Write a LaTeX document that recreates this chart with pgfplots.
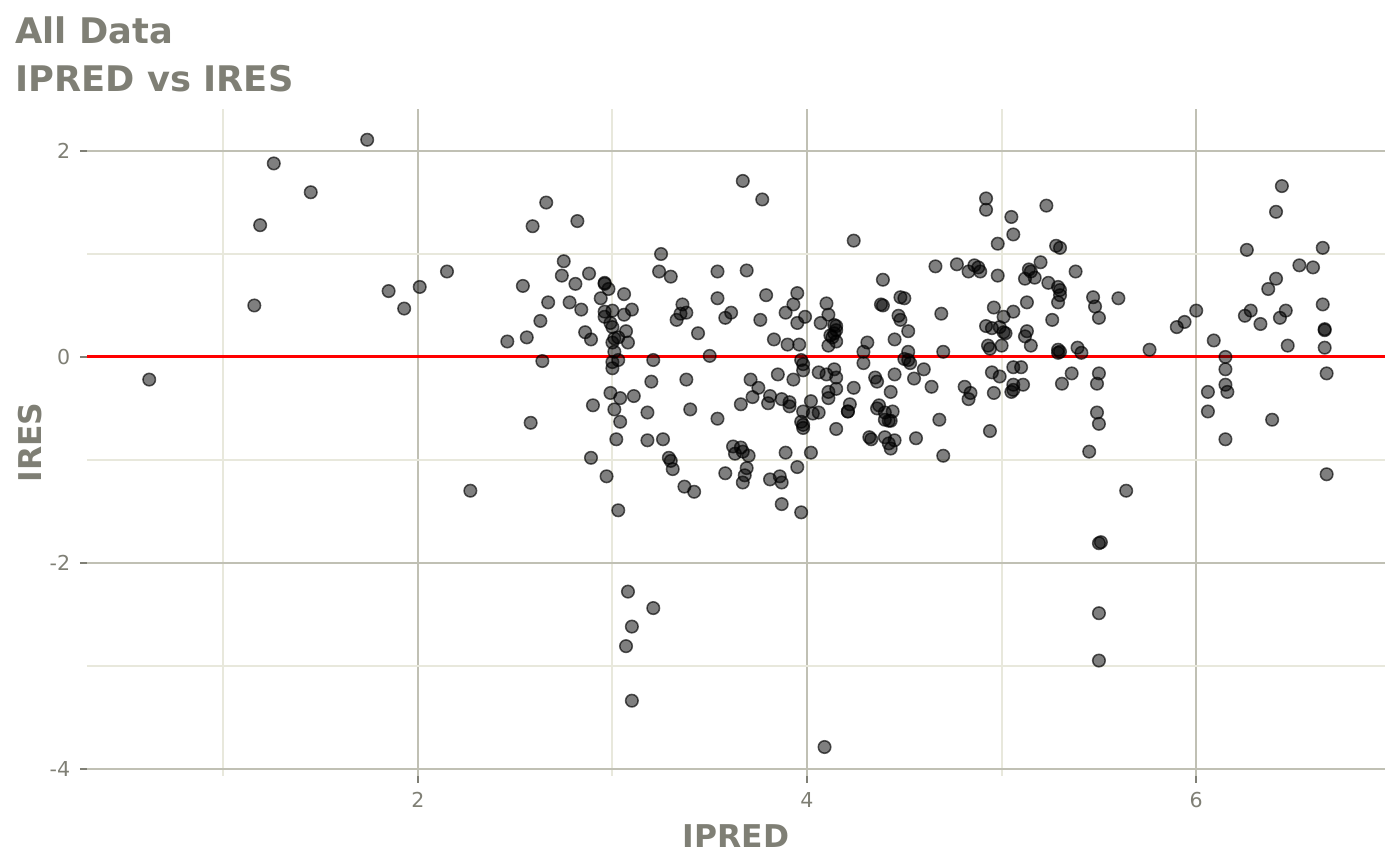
\documentclass[border=0pt]{standalone}
\usepackage{pgfplots}
\pgfplotsset{compat=1.18}
\usepackage{fontspec}
\setmainfont{DejaVu Sans}
\definecolor{txtgray}{RGB}{127,127,117}
\definecolor{gridmaj}{RGB}{192,192,180}
\definecolor{gridmin}{RGB}{232,232,220}
\pgfplotstableread{
x y
0.62 -0.22
1.16 0.50
1.19 1.28
1.26 1.88
1.45 1.60
1.74 2.11
1.85 0.64
1.93 0.47
2.01 0.68
2.15 0.83
2.27 -1.30
2.46 0.15
2.66 1.50
2.59 1.27
2.82 1.32
2.75 0.93
2.54 0.69
2.74 0.79
2.88 0.81
2.81 0.71
2.96 0.71
2.96 0.72
2.98 0.66
3.06 0.61
2.67 0.53
2.78 0.53
2.84 0.46
2.94 0.57
3.10 0.46
2.96 0.44
3.00 0.45
3.06 0.41
2.96 0.39
2.99 0.33
3.00 0.29
2.63 0.35
2.86 0.24
2.89 0.17
3.07 0.25
3.03 0.19
3.01 0.18
3.00 0.14
3.08 0.14
3.01 0.05
2.56 0.19
2.64 -0.04
3.03 -0.03
3.00 -0.05
3.00 -0.11
2.99 -0.35
3.04 -0.40
3.11 -0.38
2.90 -0.47
3.01 -0.51
3.04 -0.63
2.58 -0.64
3.02 -0.80
2.89 -0.98
2.97 -1.16
3.03 -1.49
3.08 -2.28
3.21 -2.44
3.10 -2.62
3.07 -2.81
3.10 -3.34
4.09 -3.79
5.50 -2.49
5.50 -2.95
3.67 1.71
3.77 1.53
3.25 1.00
3.24 0.83
3.30 0.78
3.54 0.83
3.69 0.84
3.36 0.51
3.54 0.57
3.35 0.42
3.38 0.43
3.33 0.36
3.58 0.38
3.61 0.43
3.79 0.60
3.76 0.36
3.95 0.62
3.93 0.51
3.89 0.43
3.99 0.39
3.95 0.33
3.44 0.23
3.83 0.17
3.90 0.12
3.96 0.12
3.21 -0.03
3.50 0.01
3.97 -0.03
3.98 -0.07
4.10 0.52
4.11 0.41
4.07 0.33
4.12 0.21
4.11 0.11
3.98 -0.13
3.20 -0.24
3.38 -0.22
3.71 -0.22
3.85 -0.17
3.93 -0.22
4.06 -0.15
4.10 -0.17
3.75 -0.30
3.72 -0.39
3.66 -0.46
3.81 -0.38
3.80 -0.45
3.87 -0.41
3.91 -0.44
3.91 -0.48
4.02 -0.43
4.11 -0.34
4.11 -0.40
3.18 -0.54
3.40 -0.51
3.54 -0.60
3.98 -0.53
4.03 -0.55
4.06 -0.54
3.97 -0.63
3.98 -0.66
3.98 -0.69
3.18 -0.81
3.26 -0.80
3.29 -0.98
3.30 -1.01
3.31 -1.09
3.62 -0.87
3.63 -0.94
3.66 -0.88
3.67 -0.92
3.70 -0.96
3.58 -1.13
3.69 -1.08
3.68 -1.15
3.67 -1.22
3.37 -1.26
3.42 -1.31
3.81 -1.19
3.86 -1.16
3.87 -1.22
3.89 -0.93
4.02 -0.93
3.95 -1.07
3.87 -1.43
3.97 -1.51
4.92 1.54
4.92 1.43
5.05 1.36
5.06 1.19
4.98 1.10
4.24 1.13
4.66 0.88
4.77 0.90
4.83 0.83
4.86 0.89
4.88 0.87
4.89 0.83
4.98 0.79
4.39 0.75
4.14 0.31
4.15 0.30
4.15 0.26
4.14 0.23
4.13 0.19
4.15 0.15
4.38 0.51
4.39 0.50
4.48 0.58
4.50 0.57
4.47 0.40
4.48 0.36
4.52 0.25
4.45 0.17
4.31 0.14
4.29 0.05
4.29 -0.06
4.52 0.05
4.50 -0.02
4.52 -0.03
4.53 -0.06
4.69 0.42
4.70 0.05
4.96 0.48
5.01 0.39
5.06 0.44
4.92 0.30
4.95 0.28
4.99 0.29
5.01 0.24
5.02 0.23
4.93 0.11
4.94 0.08
5.00 0.11
4.15 -0.20
4.14 -0.12
4.15 -0.31
4.24 -0.30
4.22 -0.46
4.21 -0.53
4.21 -0.53
4.35 -0.20
4.36 -0.24
4.45 -0.17
4.60 -0.12
4.55 -0.21
4.64 -0.29
4.43 -0.34
4.37 -0.47
4.36 -0.50
4.40 -0.54
4.44 -0.53
4.40 -0.61
4.42 -0.62
4.43 -0.62
4.15 -0.70
4.32 -0.78
4.33 -0.80
4.40 -0.78
4.42 -0.84
4.45 -0.81
4.43 -0.89
4.56 -0.79
4.68 -0.61
4.70 -0.96
4.81 -0.29
4.84 -0.35
4.83 -0.41
4.95 -0.15
4.99 -0.19
4.96 -0.35
4.94 -0.72
5.06 -0.10
5.06 -0.27
5.05 -0.34
5.23 1.47
5.28 1.08
5.30 1.06
5.20 0.92
5.14 0.85
5.15 0.83
5.12 0.76
5.17 0.77
5.38 0.83
5.24 0.72
5.29 0.68
5.30 0.65
5.30 0.60
5.29 0.53
5.47 0.58
5.48 0.49
5.60 0.57
5.50 0.38
5.26 0.36
5.13 0.53
5.13 0.25
5.12 0.20
5.15 0.11
5.29 0.07
5.30 0.05
5.29 0.04
5.39 0.09
5.41 0.04
5.76 0.07
5.90 0.29
5.94 0.34
6.00 0.45
5.10 -0.10
5.06 -0.32
5.11 -0.27
5.36 -0.16
5.31 -0.26
5.50 -0.16
5.49 -0.26
5.49 -0.54
5.50 -0.65
5.45 -0.92
5.64 -1.30
5.50 -1.81
5.51 -1.80
6.06 -0.34
6.06 -0.53
6.44 1.66
6.41 1.41
6.26 1.04
6.65 1.06
6.53 0.89
6.60 0.87
6.41 0.76
6.37 0.66
6.28 0.45
6.25 0.40
6.46 0.45
6.43 0.38
6.33 0.32
6.65 0.51
6.66 0.26
6.66 0.27
6.09 0.16
6.47 0.11
6.66 0.09
6.15 0.00
6.15 -0.12
6.67 -0.16
6.15 -0.27
6.16 -0.34
6.39 -0.61
6.15 -0.80
6.67 -1.14
}\pts
\begin{document}
\begin{tikzpicture}
\useasboundingbox (-31.3pt,-32pt) rectangle (472.7pt,279.3pt);
\begin{axis}[
  scale only axis, width=467.3pt, height=240.1pt,
  xmin=0.30, xmax=6.97, ymin=-4.07, ymax=2.41,
  axis lines*=left, axis line style={draw=none},
  xtick={2,4,6}, ytick={-4,-2,0,2},
  minor xtick={1,3,5}, minor ytick={-3,-1,1},
  grid=both,
  major grid style={draw=gridmaj, line width=0.7pt},
  minor grid style={draw=gridmin, line width=0.7pt},
  tick align=outside, major tick length=2.5pt, minor tick length=0pt,
  major tick style={draw=txtgray, line width=0.7pt},
  minor tick style={draw=none},
  ticklabel style={font=\fontsize{7.4}{8}\selectfont, text=txtgray},
  /pgf/number format/assume math mode=true,
  xlabel={IPRED}, ylabel={IRES},
  label style={font=\bfseries\fontsize{11.3}{13}\selectfont, text=txtgray},
  xlabel style={at={(axis description cs:0.5,-0.108)}, anchor=base},
  ylabel style={at={(axis description cs:-0.0347,0.5)}, anchor=base},
  clip=false,
]
\addplot[only marks, mark=*, mark size=2.25pt,
  mark options={fill=black, fill opacity=0.5, draw=black, draw opacity=0.65, line width=0.55pt}]
  table[x=x,y=y] {\pts};
\addplot[red, line width=1.05pt] coordinates {(0.30,0) (6.97,0)};
\node[anchor=base west, text=txtgray, font=\bfseries\fontsize{12.7}{15}\selectfont, inner sep=0pt]
  at (axis description cs:-0.0554,1.0975) {All Data};
\node[anchor=base west, text=txtgray, font=\bfseries\fontsize{12.7}{15}\selectfont, inner sep=0pt]
  at (axis description cs:-0.0554,1.0254) {IPRED vs IRES};
\end{axis}
\end{tikzpicture}
\end{document}
